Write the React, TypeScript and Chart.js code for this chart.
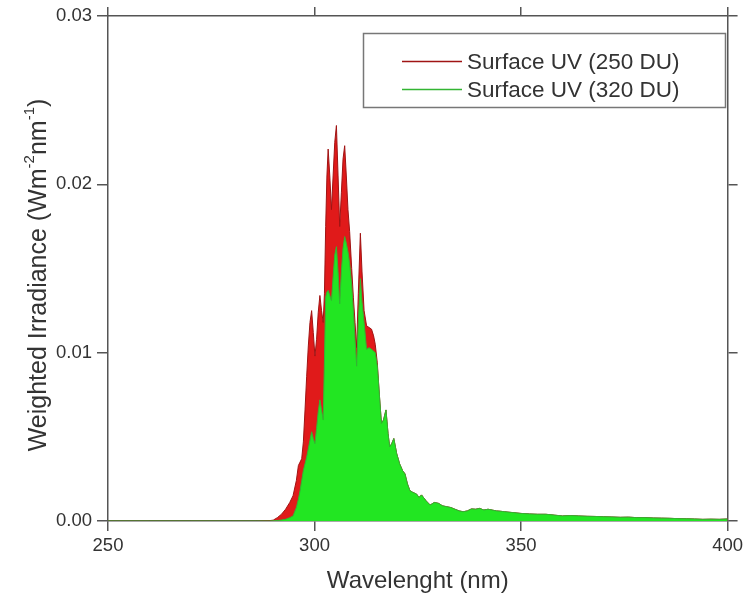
import React, { useEffect, useRef } from "react";
import { Chart, registerables } from "chart.js";

Chart.register(...registerables);

// Wavelength grid (nm)
const wavelengths = [
  250, 260, 270, 280, 286, 289, 290, 291, 292, 293, 294, 294.8, 295.6, 296.1, 296.5, 296.9,
  297.3, 297.7, 298.1, 298.5, 298.9, 299.3, 299.7, 300.1, 300.5, 300.9, 301.3, 301.7, 302.1,
  302.4, 302.7, 303.0, 303.3, 303.7, 304.1, 304.5, 304.9, 305.3, 305.7, 306.1, 306.5, 306.9,
  307.3, 307.7, 308.1, 308.5, 309.0, 309.4, 309.8, 310.2, 310.6, 311.1, 311.5, 312.0, 312.6,
  313.2, 313.8, 314.3, 314.7, 315.2, 315.7, 316.2, 316.7, 317.3, 317.8, 318.2, 318.7, 319.2,
  319.9, 320.6, 321.3, 321.9, 322.5, 323.1, 323.8, 324.7, 325.3, 325.9, 327, 328, 329, 330,
  331, 332, 333, 334, 335, 336, 337, 338, 339, 340, 341, 342, 343, 344, 345, 346, 348, 350,
  352, 354, 356, 358, 360, 362, 364, 366, 368, 370, 372, 374, 376, 378, 380, 382, 384, 386,
  388, 390, 392, 394, 396, 398, 400,
];

// Surface UV, 250 DU ozone column (W m-2 nm-1)
const uv250 = [
  0, 0, 0, 0, 0, 0.00002, 0.00005, 0.0002, 0.0004, 0.0007, 0.0011, 0.0015, 0.0024, 0.0033, 0.0035, 0.0037,
  0.0047, 0.0066, 0.0086, 0.0104, 0.0118, 0.0125, 0.0112, 0.0098, 0.0108, 0.0124, 0.0134, 0.0125, 0.0118,
  0.0135, 0.0175, 0.0205, 0.0221, 0.0205, 0.0185, 0.0205, 0.0225, 0.0235, 0.0205, 0.0175, 0.0195, 0.0215,
  0.0223, 0.0205, 0.0185, 0.0172, 0.015, 0.0133, 0.0118, 0.0103, 0.0135, 0.0171, 0.0148, 0.0125, 0.0116,
  0.0115, 0.0114, 0.011, 0.0105, 0.0094, 0.0075, 0.0058, 0.006, 0.0066, 0.0052, 0.0044, 0.0046, 0.0049,
  0.004, 0.0034, 0.003, 0.0028, 0.0022, 0.0018, 0.0017, 0.0016, 0.0014, 0.00155, 0.0012, 0.00095, 0.0011, 0.00105,
  0.0009, 0.00085, 0.0008, 0.0007, 0.0006, 0.00055, 0.0006, 0.00072, 0.0007, 0.00075, 0.00065, 0.0007, 0.00065, 0.0006, 0.00058, 0.00055, 0.0005, 0.00045,
  0.00042, 0.0004, 0.0004, 0.00035, 0.0003, 0.00032, 0.0003, 0.00028, 0.00027, 0.00025, 0.00024, 0.00022, 0.00023, 0.0002, 0.0002, 0.00018, 0.00017, 0.00016,
  0.00014, 0.00013, 0.00012, 0.0001, 0.00011, 0.0001, 0.00012,
];

// Surface UV, 320 DU ozone column (W m-2 nm-1)
const uv320 = [
  0, 0, 0, 0, 0, 0, 0.00001, 0.00003, 0.00006, 0.0001, 0.0002, 0.0003, 0.0008, 0.0013, 0.0018, 0.0024,
  0.003, 0.0034, 0.0038, 0.0043, 0.0048, 0.0053, 0.0049, 0.0046, 0.0055, 0.0065, 0.0072, 0.0066, 0.006,
  0.0095, 0.0133, 0.0136, 0.0137, 0.0134, 0.0131, 0.0145, 0.0158, 0.0163, 0.0148, 0.0129, 0.0148, 0.0162,
  0.0169, 0.0165, 0.016, 0.0153, 0.014, 0.0125, 0.0108, 0.0092, 0.0118, 0.0144, 0.013, 0.0118, 0.0102,
  0.0103, 0.0102, 0.0101, 0.01, 0.0092, 0.0075, 0.0058, 0.006, 0.0066, 0.0052, 0.0044, 0.0046, 0.0049,
  0.004, 0.0034, 0.003, 0.0028, 0.0022, 0.0018, 0.0017, 0.0016, 0.0014, 0.00155, 0.0012, 0.00095, 0.0011, 0.00105,
  0.0009, 0.00085, 0.0008, 0.0007, 0.0006, 0.00055, 0.0006, 0.00072, 0.0007, 0.00075, 0.00065, 0.0007, 0.00065, 0.0006, 0.00058, 0.00055, 0.0005, 0.00045,
  0.00042, 0.0004, 0.0004, 0.00035, 0.0003, 0.00032, 0.0003, 0.00028, 0.00027, 0.00025, 0.00024, 0.00022, 0.00023, 0.0002, 0.0002, 0.00018, 0.00017, 0.00016,
  0.00014, 0.00013, 0.00012, 0.0001, 0.00011, 0.0001, 0.00012,
];

const seriesLabels = ["Surface UV (250 DU)", "Surface UV (320 DU)"];
const xTickValues = [250, 300, 350, 400];
const yTickValues = [0, 0.01, 0.02, 0.03];
const xTitle = "Wavelenght (nm)";
const yTitleParts: { text: string; sup?: boolean }[] = [
  { text: "Weighted Irradiance (Wm" },
  { text: "-2", sup: true },
  { text: "nm" },
  { text: "-1", sup: true },
  { text: ")" },
];

const FONT = "Arial, 'Liberation Sans', sans-serif";
const TEXT_COLOR = "#333333";
const AXIS_COLOR = "#555555";
const RED_LINE = "#a01414";
const RED_FILL = "#e01a1a";
const GREEN_LINE = "#33b533";
const GREEN_FILL = "#22e622";

const yTitlePlugin = {
  id: "yTitlePlugin",
  afterDraw(chart: any) {
    const ctx = chart.ctx;
    const size = 25;
    const supSize = 15;
    ctx.save();
    let total = 0;
    for (const p of yTitleParts) {
      ctx.font = `${p.sup ? supSize : size}px ${FONT}`;
      total += ctx.measureText(p.text).width;
    }
    const cx = 39;
    const cy = 275;
    ctx.translate(cx, cy);
    ctx.rotate(-Math.PI / 2);
    ctx.fillStyle = TEXT_COLOR;
    ctx.textBaseline = "middle";
    ctx.textAlign = "left";
    let x = -total / 2;
    for (const p of yTitleParts) {
      ctx.font = `${p.sup ? supSize : size}px ${FONT}`;
      ctx.fillText(p.text, x, p.sup ? -9 : 0);
      x += ctx.measureText(p.text).width;
    }
    ctx.restore();
  },
};

const legendPlugin = {
  id: "boxLegend",
  afterDraw(chart: any) {
    const ctx = chart.ctx;
    const bx = 363.5;
    const by = 33.5;
    const bw = 362;
    const bh = 74;
    ctx.save();
    ctx.fillStyle = "#ffffff";
    ctx.fillRect(bx, by, bw, bh);
    ctx.strokeStyle = "#777777";
    ctx.lineWidth = 1.5;
    ctx.strokeRect(bx, by, bw, bh);
    const rows = [61.5, 89.5];
    const colors = [RED_LINE, GREEN_LINE];
    ctx.font = `22.5px ${FONT}`;
    ctx.textBaseline = "middle";
    ctx.textAlign = "left";
    chart.data.datasets.forEach((ds: any, i: number) => {
      ctx.strokeStyle = colors[i];
      ctx.lineWidth = 1.5;
      ctx.beginPath();
      ctx.moveTo(402, rows[i]);
      ctx.lineTo(462, rows[i]);
      ctx.stroke();
      ctx.fillStyle = TEXT_COLOR;
      ctx.fillText(ds.label, 467, rows[i] + 1);
    });
    ctx.restore();
  },
};

export default function App() {
  const canvasRef = useRef<HTMLCanvasElement | null>(null);

  useEffect(() => {
    document.body.style.margin = "0";
    const canvas = canvasRef.current;
    if (!canvas) return;
    const toPoints = (vals: number[]) => wavelengths.map((w, i) => ({ x: w, y: vals[i] }));

    const gridCommon = {
      drawOnChartArea: false,
      drawTicks: true,
      color: AXIS_COLOR,
      lineWidth: 1.5,
    };
    const borderCommon = { display: true, color: AXIS_COLOR, width: 1.5 };

    const chart = new Chart(canvas, {
      type: "line",
      data: {
        datasets: [
          {
            label: seriesLabels[0],
            data: toPoints(uv250),
            borderColor: RED_LINE,
            backgroundColor: RED_FILL,
            borderWidth: 1,
            pointRadius: 0,
            fill: "origin",
            tension: 0,
            order: 1,
          },
          {
            label: seriesLabels[1],
            data: toPoints(uv320),
            borderColor: GREEN_LINE,
            backgroundColor: GREEN_FILL,
            borderWidth: 1,
            pointRadius: 0,
            fill: "origin",
            tension: 0,
            order: 0,
          },
        ],
      },
      options: {
        animation: false,
        responsive: false,
        devicePixelRatio: 1,
        layout: { padding: 0 },
        plugins: {
          legend: { display: false },
          tooltip: { enabled: false },
        },
        scales: {
          x: {
            type: "linear",
            position: "bottom",
            min: 250,
            max: 400,
            afterBuildTicks: (s: any) => {
              s.ticks = xTickValues.map((v) => ({ value: v }));
            },
            afterFit: (s: any) => {
              s.height = 76;
            },
            ticks: {
              color: TEXT_COLOR,
              font: { size: 18.5, family: FONT },
              padding: 4,
              maxRotation: 0,
              callback: (v: any) => String(v),
            },
            grid: { ...gridCommon, tickLength: 10 },
            border: borderCommon,
            title: {
              display: true,
              text: xTitle,
              color: TEXT_COLOR,
              font: { size: 24, family: FONT },
              padding: { top: 0, bottom: 1 },
            },
          },
          x2: {
            type: "linear",
            axis: "x",
            position: "top",
            min: 250,
            max: 400,
            afterBuildTicks: (s: any) => {
              s.ticks = xTickValues.map((v) => ({ value: v }));
            },
            afterFit: (s: any) => {
              s.height = 16;
            },
            ticks: { display: false },
            grid: { ...gridCommon, tickLength: 9 },
            border: borderCommon,
          },
          y: {
            type: "linear",
            position: "left",
            min: 0,
            max: 0.03,
            afterBuildTicks: (s: any) => {
              s.ticks = yTickValues.map((v) => ({ value: v }));
            },
            afterFit: (s: any) => {
              s.width = 108;
            },
            ticks: {
              color: TEXT_COLOR,
              font: { size: 18.5, family: FONT },
              padding: 5,
              callback: (v: any) => Number(v).toFixed(2),
            },
            grid: { ...gridCommon, tickLength: 11 },
            border: borderCommon,
          },
          y2: {
            type: "linear",
            axis: "y",
            position: "right",
            min: 0,
            max: 0.03,
            afterBuildTicks: (s: any) => {
              s.ticks = yTickValues.map((v) => ({ value: v }));
            },
            afterFit: (s: any) => {
              s.width = 18;
            },
            ticks: { display: false },
            grid: { ...gridCommon, tickLength: 10 },
            border: borderCommon,
          },
        },
      },
      plugins: [yTitlePlugin, legendPlugin],
    } as any);

    return () => {
      chart.destroy();
    };
  }, []);

  return (
    <div style={{ width: 747, height: 597, background: "#ffffff" }}>
      <canvas ref={canvasRef} width={747} height={597} style={{ display: "block" }} />
    </div>
  );
}
